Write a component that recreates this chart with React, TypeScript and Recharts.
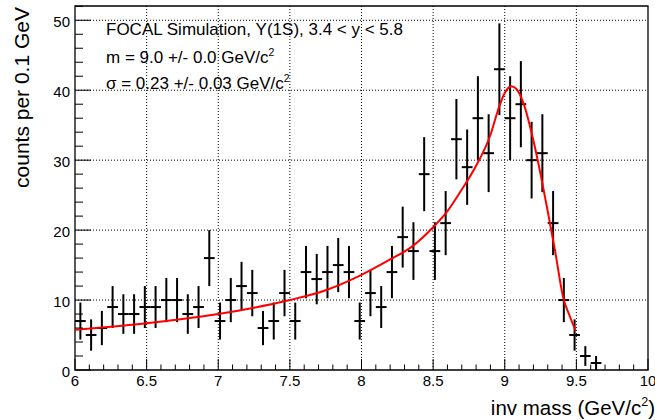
import React from "react";
import {
  ComposedChart,
  Scatter,
  Line,
  XAxis,
  YAxis,
  ErrorBar,
  ReferenceLine,
  ReferenceArea,
} from "recharts";

// Histogram bin centres (GeV/c^2), bin width 0.075
const binCenters = [
  6.0375, 6.1125, 6.1875, 6.2625, 6.3375, 6.4125, 6.4875, 6.5625, 6.6375, 6.7125,
  6.7875, 6.8625, 6.9375, 7.0125, 7.0875, 7.1625, 7.2375, 7.3125, 7.3875, 7.4625,
  7.5375, 7.6125, 7.6875, 7.7625, 7.8375, 7.9125, 7.9875, 8.0625, 8.1375, 8.2125,
  8.2875, 8.3625, 8.4375, 8.5125, 8.5875, 8.6625, 8.7375, 8.8125, 8.8875, 8.9625,
  9.0375, 9.1125, 9.1875, 9.2625, 9.3375, 9.4125, 9.4875, 9.5625, 9.6375,
];

// Entries per bin
const counts = [
  7, 5, 6, 9, 8, 8, 9, 9, 10, 10,
  8, 9, 16, 7, 10, 12, 11, 6, 7, 11,
  7, 14, 13, 14, 15, 14, 7, 11, 9, 14,
  19, 17, 28, 17, 21, 33, 29, 36, 31, 43,
  36, 38, 30, 31, 21, 10, 5, 2, 1,
];

const binHalfWidth = 0.075 / 2;

// Fitted signal shape (Crystal Ball) sampled along the mass axis
const fitMass = [
  6.0, 6.25, 6.5, 6.75, 7.0, 7.25, 7.5, 7.75, 8.0, 8.2, 8.35, 8.5, 8.6, 8.7,
  8.8, 8.9, 8.96, 9.0, 9.045, 9.08, 9.13, 9.2, 9.25, 9.3, 9.35, 9.41, 9.45, 9.495,
];
const fitValue = [
  5.75, 6.2, 6.7, 7.3, 8.0, 8.9, 10.0, 11.4, 13.6, 15.8, 17.6, 20.4, 22.7, 25.8,
  29.2, 33.6, 37.6, 39.6, 40.55, 40.2, 38.2, 32.8, 28.0, 22.7, 17.2, 10.2, 7.9, 5.6,
];

// Axis ticks
const xTicks = [
  6.0, 6.1, 6.2, 6.3, 6.4, 6.5, 6.6, 6.7, 6.8, 6.9, 7.0, 7.1, 7.2, 7.3, 7.4, 7.5,
  7.6, 7.7, 7.8, 7.9, 8.0, 8.1, 8.2, 8.3, 8.4, 8.5, 8.6, 8.7, 8.8, 8.9, 9.0, 9.1,
  9.2, 9.3, 9.4, 9.5, 9.6, 9.7, 9.8, 9.9, 10.0,
];
const xMajor = [6, 6.5, 7, 7.5, 8, 8.5, 9, 9.5, 10];
const yTicks = [
  0, 2, 4, 6, 8, 10, 12, 14, 16, 18, 20, 22, 24, 26, 28, 30, 32, 34, 36, 38, 40,
  42, 44, 46, 48, 50, 52,
];
const yMajor = [0, 10, 20, 30, 40, 50];
const gridX = [6.5, 7, 7.5, 8, 8.5, 9, 9.5];
const gridY = [10, 20, 30, 40, 50];

const X_DOMAIN: [number, number] = [6, 10];
const Y_DOMAIN: [number, number] = [0, 52.04];

const W = 655;
const H = 420;
const MARGIN = { top: 6, right: 7, bottom: 20, left: 45 };
const Y_AXIS_W = 30;
const X_AXIS_H = 30;
const PLOT_LEFT = MARGIN.left + Y_AXIS_W;
const PLOT_BOTTOM = H - MARGIN.bottom - X_AXIS_H;

const FONT = "'Liberation Sans', Arial, Helvetica, sans-serif";

const histData = binCenters.map((x, i) => ({
  x,
  y: counts[i],
  ey: Math.sqrt(counts[i]),
  ex: binHalfWidth,
}));

const fitData = fitMass.map((x, i) => ({ x, y: fitValue[i] }));

const isMajor = (v: number, majors: number[]) =>
  majors.some((m) => Math.abs(m - v) < 1e-6);

const XTick = (props: any) => {
  const { x, payload } = props;
  const v: number = payload.value;
  const major = isMajor(v, xMajor);
  return (
    <g>
      <line
        x1={x}
        x2={x}
        y1={PLOT_BOTTOM}
        y2={PLOT_BOTTOM - (major ? 11 : 5.5)}
        stroke="#000"
        strokeWidth={1}
      />
      {major && (
        <text
          x={x}
          y={PLOT_BOTTOM + 15.5}
          textAnchor="middle"
          fontFamily={FONT}
          fontSize={15}
          fill="#000"
        >
          {String(Math.round(v * 10) / 10)}
        </text>
      )}
    </g>
  );
};

const YTick = (props: any) => {
  const { y, payload } = props;
  const v: number = payload.value;
  const major = isMajor(v, yMajor);
  return (
    <g>
      <line
        x1={PLOT_LEFT}
        x2={PLOT_LEFT + (major ? 16 : 8)}
        y1={y}
        y2={y}
        stroke="#000"
        strokeWidth={1}
      />
      {major && (
        <text
          x={PLOT_LEFT - 5}
          y={y + 6.5}
          textAnchor="end"
          fontFamily={FONT}
          fontSize={15}
          fill="#000"
        >
          {String(v)}
        </text>
      )}
    </g>
  );
};

const NoMarker = () => <g />;

export default function App() {
  return (
    <div
      style={{
        position: "absolute",
        left: 0,
        top: 0,
        width: W,
        height: H,
        background: "#fff",
      }}
    >
      <ComposedChart width={W} height={H} margin={MARGIN}>
        <XAxis
          dataKey="x"
          type="number"
          domain={X_DOMAIN}
          allowDataOverflow
          ticks={xTicks}
          interval={0}
          tickLine={false}
          axisLine={false}
          tick={<XTick />}
          height={X_AXIS_H}
        />
        <YAxis
          type="number"
          domain={Y_DOMAIN}
          allowDataOverflow
          ticks={yTicks}
          interval={0}
          tickLine={false}
          axisLine={false}
          tick={<YTick />}
          width={Y_AXIS_W}
        />
        {gridX.map((v) => (
          <ReferenceLine
            key={"gx" + v}
            x={v}
            stroke="#000"
            strokeWidth={1}
            strokeDasharray="1 2"
          />
        ))}
        {gridY.map((v) => (
          <ReferenceLine
            key={"gy" + v}
            y={v}
            stroke="#000"
            strokeWidth={1}
            strokeDasharray="1 2"
          />
        ))}
        <ReferenceArea
          x1={X_DOMAIN[0]}
          x2={X_DOMAIN[1]}
          y1={Y_DOMAIN[0]}
          y2={Y_DOMAIN[1]}
          fill="none"
          fillOpacity={0}
          stroke="#000"
          strokeWidth={1.3}
          ifOverflow="visible"
        />
        <Scatter
          data={histData}
          dataKey="y"
          shape={<NoMarker />}
          isAnimationActive={false}
        >
          <ErrorBar
            dataKey="ey"
            direction="y"
            width={0}
            stroke="#000"
            strokeWidth={2}
          />
          <ErrorBar
            dataKey="ex"
            direction="x"
            width={0}
            stroke="#000"
            strokeWidth={2}
          />
        </Scatter>
        <Line
          data={fitData}
          dataKey="y"
          type="monotone"
          stroke="#ff0000"
          strokeWidth={2}
          dot={false}
          activeDot={false}
          isAnimationActive={false}
        />
      </ComposedChart>
      <svg
        width={W}
        height={H}
        style={{ position: "absolute", left: 0, top: 0, pointerEvents: "none" }}
        fontFamily={FONT}
        fill="#000"
      >
        <text x={106} y={35} fontSize={17}>
          FOCAL Simulation, Υ(1S), 3.4 &lt; y &lt; 5.8
        </text>
        <text x={106} y={62.5} fontSize={17}>
          m = 9.0 +/- 0.0 GeV/c
          <tspan fontSize={10.5} dy={-7}>
            2
          </tspan>
        </text>
        <text x={106} y={88.5} fontSize={17}>
          σ = 0.23 +/- 0.03 GeV/c
          <tspan fontSize={10.5} dy={-7}>
            2
          </tspan>
        </text>
        <text
          transform="translate(29,7) rotate(-90)"
          textAnchor="end"
          fontSize={21}
        >
          counts per 0.1 GeV
        </text>
        <text x={655} y={415} textAnchor="end" fontSize={20.5}>
          inv mass (GeV/c
          <tspan fontSize={12.5} dy={-9}>
            2
          </tspan>
          <tspan dy={9}>)</tspan>
        </text>
      </svg>
    </div>
  );
}
